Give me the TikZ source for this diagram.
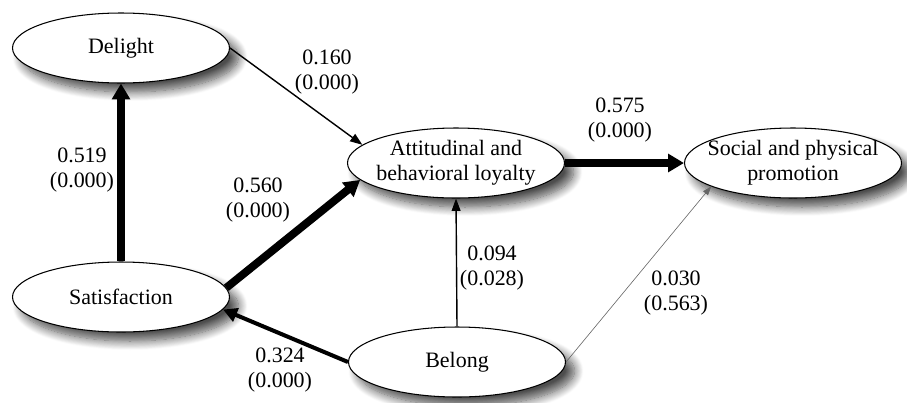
\documentclass[tikz,border=0pt]{standalone}
\usepackage{fontspec}
\setmainfont{Liberation Serif}
\usetikzlibrary{arrows.meta,calc,positioning,shapes.geometric,shadows.blur}

\tikzset{
	construct/.style={ellipse,draw,line width=0.6pt,fill=white,minimum width=4.34cm,minimum height=1.4cm,inner sep=-3mm,align=center,
		blur shadow={shadow xshift=1.8mm,shadow yshift=-1.8mm,shadow blur steps=12,shadow blur radius=1.8mm,shadow opacity=70}},
	coef/.style={align=center,inner sep=1pt},
	strong/.style={line width=4.5pt,-{Triangle[length=9pt,width=10pt]}},
	medium/.style={line width=2.3pt,-{Triangle[length=8pt,width=8pt]}},
	weak/.style={line width=0.8pt,-{Triangle[length=7pt,width=5pt]}},
	faint/.style={line width=0.35pt,draw=black!60,-{Triangle[length=5pt,width=3.5pt]}}
}

\begin{document}
\begin{tikzpicture}[font=\fontsize{12.5}{14.2}\selectfont]
			\useasboundingbox (0,0) rectangle (18.14,8.04);
			% constructs
			\node[construct] (delight) at (2.42,7.08) {Delight};
			\node[construct] (satis) at (2.42,2.10) {Satisfaction};
			\node[construct] (loyal) at (9.12,4.78) {Attitudinal and\\behavioral loyalty};
			\node[construct] (social) at (15.86,4.78) {Social and physical\\promotion};
			\node[construct] (belong) at (9.14,0.80) {Belong};
			% paths
			\draw[weak] (delight.east) -- (loyal.169);
			\draw[strong] (satis.north) -- (delight.south);
			\draw[strong] (satis.5) -- (loyal.190);
			\draw[strong] (loyal.east) -- (social.west);
			\draw[weak] (belong.north) -- (loyal.south);
			\draw[medium] (belong.west) -- (satis.-7);
			\draw[faint] (belong.east) -- (social.196);
			% coefficients
			\node[coef] (c160) at (6.54,6.59) {0.160\\(0.000)};
			\node[coef] (c519) at (1.64,4.64) {0.519\\(0.000)};
			\node[coef] (c560) at (5.16,4.04) {0.560\\(0.000)};
			\node[coef] (c575) at (12.40,5.64) {0.575\\(0.000)};
			\node[coef] (c094) at (9.84,2.68) {0.094\\(0.028)};
			\node[coef] (c030) at (13.52,2.18) {0.030\\(0.563)};
			\node[coef] (c324) at (5.60,0.64) {0.324\\(0.000)};
		\end{tikzpicture}
\end{document}
